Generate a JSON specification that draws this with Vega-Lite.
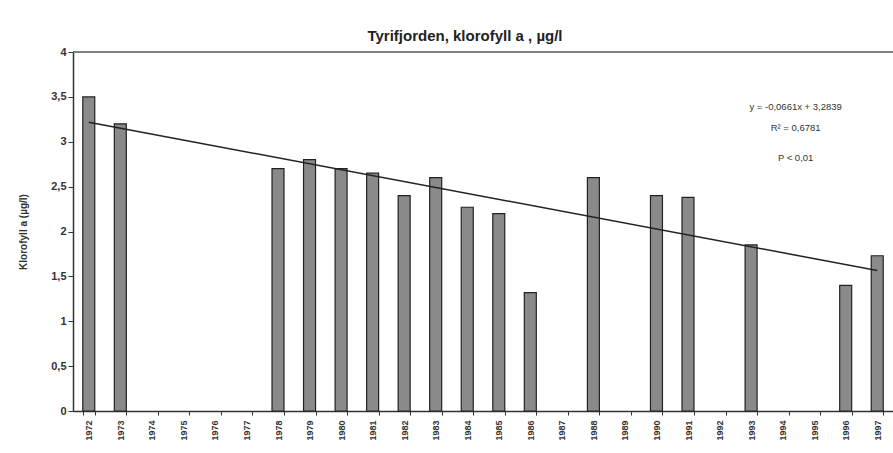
{
  "$schema": "https://vega.github.io/schema/vega-lite/v6.json",
  "width": 820,
  "height": 359,
  "autosize": {"type": "none"},
  "padding": {"left": 73, "top": 52, "right": 0, "bottom": 42},
  "background": "white",
  "config": {
    "view": {"stroke": null},
    "font": "Liberation Sans",
    "axis": {"domainColor": "#333", "tickColor": "#333", "labelColor": "#333", "titleColor": "#333"}
  },
  "title": {
    "text": "Tyrifjorden, klorofyll a , µg/l",
    "fontSize": 15,
    "fontWeight": "bold",
    "color": "#222",
    "offset": 2,
    "dx": -18
  },
  "datasets": {
    "bars": [
      {"year": "1972", "value": 3.5},
      {"year": "1973", "value": 3.2},
      {"year": "1978", "value": 2.7},
      {"year": "1979", "value": 2.8},
      {"year": "1980", "value": 2.7},
      {"year": "1981", "value": 2.65},
      {"year": "1982", "value": 2.4},
      {"year": "1983", "value": 2.6},
      {"year": "1984", "value": 2.27},
      {"year": "1985", "value": 2.2},
      {"year": "1986", "value": 1.32},
      {"year": "1988", "value": 2.6},
      {"year": "1990", "value": 2.4},
      {"year": "1991", "value": 2.38},
      {"year": "1993", "value": 1.85},
      {"year": "1996", "value": 1.4},
      {"year": "1997", "value": 1.73}
    ],
    "trend": [
      {"year": "1972", "value": 3.2178},
      {"year": "1997", "value": 1.5653}
    ],
    "notes": [
      {"year": "1994", "value": 3.39, "label": "y = -0,0661x + 3,2839"},
      {"year": "1994", "value": 3.15, "label": "R² = 0,6781"},
      {"year": "1994", "value": 2.82, "label": "P < 0,01"}
    ]
  },
  "layer": [
    {
      "data": {"name": "bars"},
      "mark": {"type": "bar", "fill": "#8a8a8a", "stroke": "#222", "strokeWidth": 1.2},
      "encoding": {
        "x": {
          "field": "year", "type": "ordinal", "sort": null,
          "scale": {
            "domain": ["1972","1973","1974","1975","1976","1977","1978","1979","1980","1981","1982","1983","1984","1985","1986","1987","1988","1989","1990","1991","1992","1993","1994","1995","1996","1997"],
            "paddingInner": 0.62, "paddingOuter": 0.31
          },
          "axis": {
            "title": null, "labelAngle": -90, "labelFontSize": 9, "labelFontWeight": "bold", "labelPadding": 5,
            "tickBand": "extent", "tickSize": 4, "domainWidth": 1.5
          }
        },
        "y": {
          "field": "value", "type": "quantitative",
          "scale": {"domain": [0, 4]},
          "axis": {
            "title": "Klorofyll a  (µg/l)", "titleFontSize": 10, "titleFontWeight": "bold",
            "values": [0, 0.5, 1, 1.5, 2, 2.5, 3, 3.5, 4],
            "labelExpr": "replace(format(datum.value, ''), '.', ',')",
            "labelFontSize": 11, "labelFontWeight": "bold", "grid": false, "tickSize": 5, "titlePadding": 22, "domainWidth": 1.5
          }
        }
      }
    },
    {
      "data": {"values": [{"v": 4}]},
      "mark": {"type": "rule", "color": "#555", "strokeWidth": 1.5},
      "encoding": {"y": {"field": "v", "type": "quantitative"}}
    },
    {
      "data": {"name": "trend"},
      "mark": {"type": "line", "color": "#222", "strokeWidth": 1.5},
      "encoding": {
        "x": {"field": "year", "type": "ordinal", "sort": null},
        "y": {"field": "value", "type": "quantitative"}
      }
    },
    {
      "data": {"name": "notes"},
      "mark": {"type": "text", "fontSize": 9.5, "color": "#333", "dx": 13, "align": "center"},
      "encoding": {
        "x": {"field": "year", "type": "ordinal", "sort": null},
        "y": {"field": "value", "type": "quantitative"},
        "text": {"field": "label"}
      }
    }
  ]
}
